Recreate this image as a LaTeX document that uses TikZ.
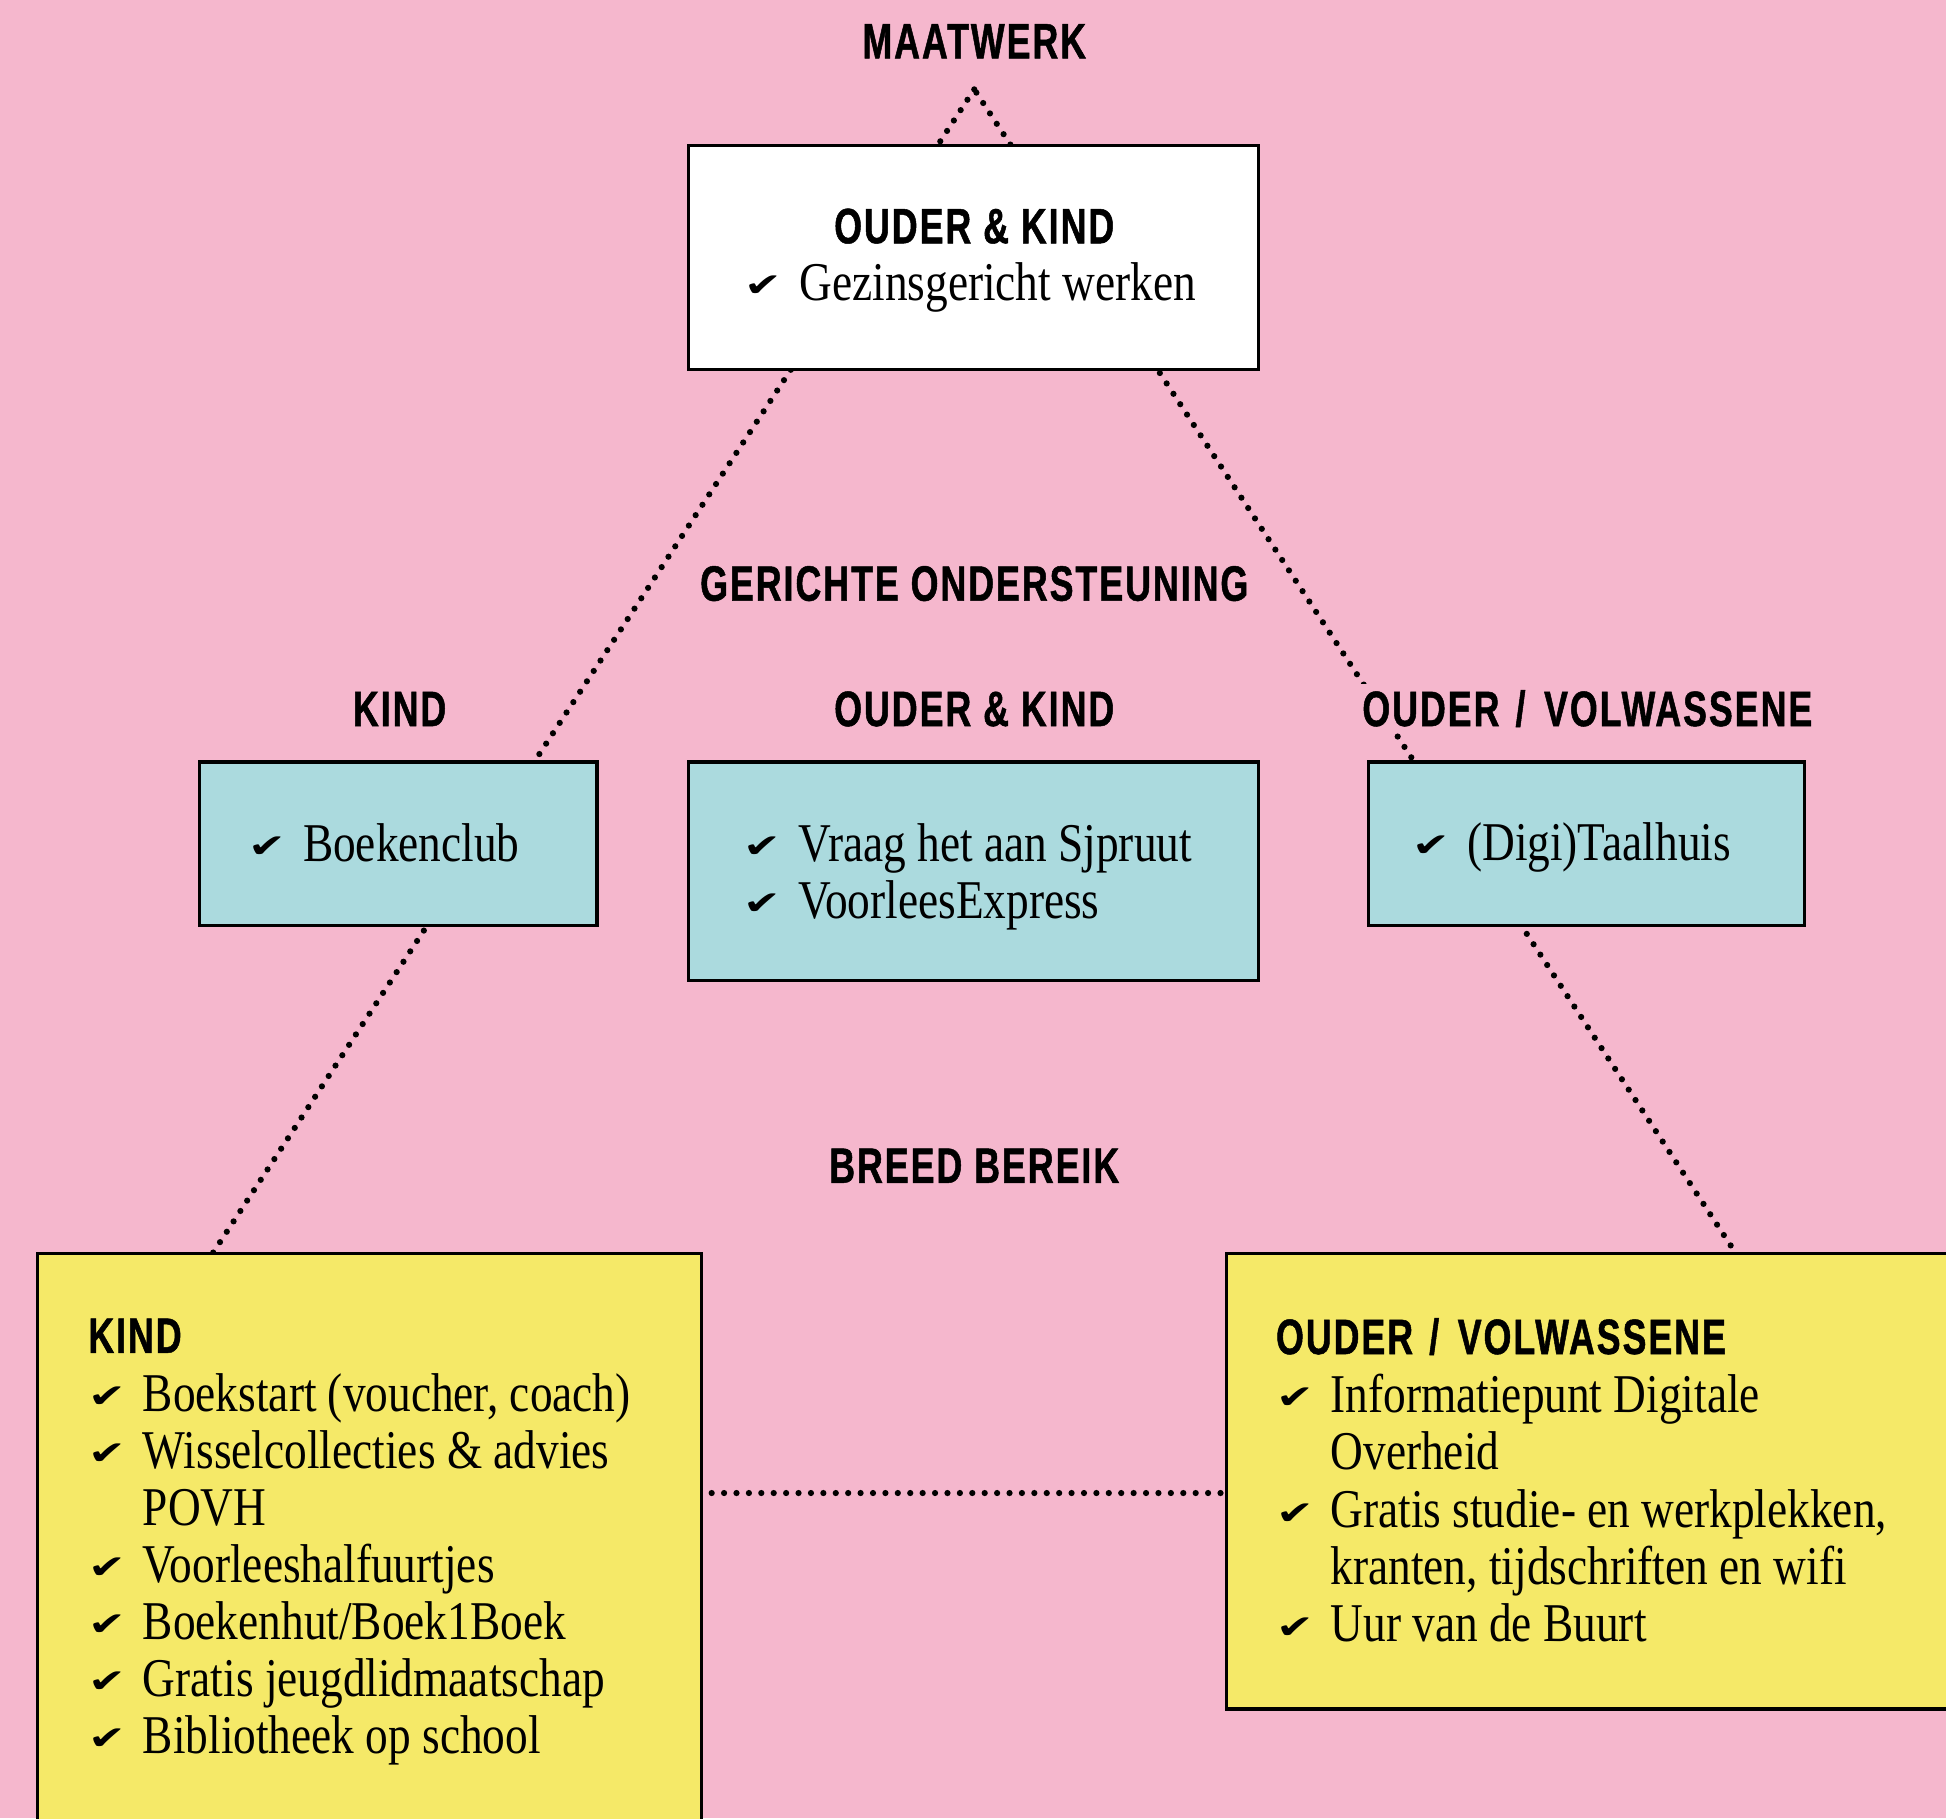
\documentclass[tikz,border=0pt]{standalone}
\usepackage{fontspec}
\usepackage{graphicx}
\setmainfont{Liberation Serif}
\newfontface\bodyfont{Liberation Serif}[FakeStretch=0.83]
\newfontface\headfont{Liberation Sans Bold}[FakeStretch=0.72,LetterSpace=4,FakeBold=1]
\newfontface\symfont{DejaVu Sans Bold}
\definecolor{bgpink}{HTML}{F5B7CD}
\definecolor{boxcyan}{HTML}{ABDADE}
\definecolor{boxyellow}{HTML}{F5E968}
\newcommand\ckm{\makebox[44pt][l]{\raisebox{3pt}{\scalebox{1.1}[0.8]{\symfont\fontsize{33pt}{33pt}\selectfont ✔}}}}
\newcommand\indt{\hspace*{44pt}}
\newcommand\slsh{\hspace{13pt}/\hspace{15pt}}
\begin{document}
\begin{tikzpicture}[x=1pt,y=-1pt,
  panel/.style={draw=black, line width=2.5pt, inner sep=0pt, outer sep=0pt, anchor=north west},
  head/.style={font=\headfont\fontsize{40pt}{46pt}\selectfont, inner sep=0pt},
  lab/.style={head, fill=bgpink, inner sep=5pt, anchor=base},
  body/.style={font=\bodyfont\fontsize{44pt}{46pt}\selectfont, inner sep=0pt, anchor=base west},
  dots/.style={line width=5pt, line cap=round, dash pattern=on 0pt off 10pt}]
\fill[bgpink] (0,0) rectangle (1568,1465);
\useasboundingbox (0,0) rectangle (1568,1465);
% background triangle
\coordinate (apex) at (785,72);
\coordinate (triL) at (45,1203);
\coordinate (triR) at (1525,1203);
\draw[dots] (apex) -- (triL) -- (triR) -- cycle;
% level labels
\node[lab] (maat) at (785,47) {MAATWERK};
\node[lab] (ger) at (785,484) {GERICHTE ONDERSTEUNING};
\node[lab] (breed) at (785,953) {BREED BEREIK};
\node[lab] (labK) at (322,585) {KIND};
\node[lab] (labOK) at (785,585) {OUDER \& KIND};
\node[lab] (labOV) at (1279,585) {OUDER\slsh VOLWASSENE};
% boxes
\node[panel, fill=white, minimum width=459pt, minimum height=181pt] (top) at (555,117) {};
\node[panel, fill=boxcyan, minimum width=320pt, minimum height=132pt] (cK) at (161,614) {};
\node[panel, fill=boxcyan, minimum width=459pt, minimum height=176pt] (cOK) at (555,614) {};
\node[panel, fill=boxcyan, minimum width=351pt, minimum height=132pt] (cOV) at (1103,614) {};
\node[panel, fill=boxyellow, minimum width=535pt, minimum height=480pt] (yK) at (30,1010) {};
\node[panel, fill=boxyellow, minimum width=600pt, minimum height=367pt] (yOV) at (988,1010) {};
% top box text
\node[head, anchor=base] (topH) at (785,196) {OUDER \& KIND};
\node[body] (topT) at (600,242) {\ckm Gezinsgericht werken};
% cyan texts
\node[body] (cKt) at (200,694) {\ckm Boekenclub};
\node[body] (cOKt1) at (599,694) {\ckm Vraag het aan Sjpruut};
\node[body] (cOKt2) at (599,740) {\ckm VoorleesExpress};
\node[body] (cOVt) at (1138,693) {\ckm (Digi)Taalhuis};
% yellow left
\node[head, anchor=base west] (yKh) at (71,1090) {KIND};
\node[body] (yK1) at (71,1137) {\ckm Boekstart (voucher, coach)};
\node[body] (yK2) at (71,1183) {\ckm Wisselcollecties \& advies};
\node[body] (yK3) at (71,1229) {\indt POVH};
\node[body] (yK4) at (71,1275) {\ckm Voorleeshalfuurtjes};
\node[body] (yK5) at (71,1321) {\ckm Boekenhut/Boek1Boek};
\node[body] (yK6) at (71,1367) {\ckm Gratis jeugdlidmaatschap};
\node[body] (yK7) at (71,1413) {\ckm Bibliotheek op school};
% yellow right
\node[head, anchor=base west] (yOVh) at (1028,1091) {OUDER\slsh VOLWASSENE};
\node[body] (yO1) at (1028,1138) {\ckm Informatiepunt Digitale};
\node[body] (yO2) at (1028,1184) {\indt Overheid};
\node[body] (yO3) at (1028,1231) {\ckm Gratis studie- en werkplekken,};
\node[body] (yO4) at (1028,1277) {\indt kranten, tijdschriften en wifi};
\node[body] (yO5) at (1028,1323) {\ckm Uur van de Buurt};
\end{tikzpicture}
\end{document}
